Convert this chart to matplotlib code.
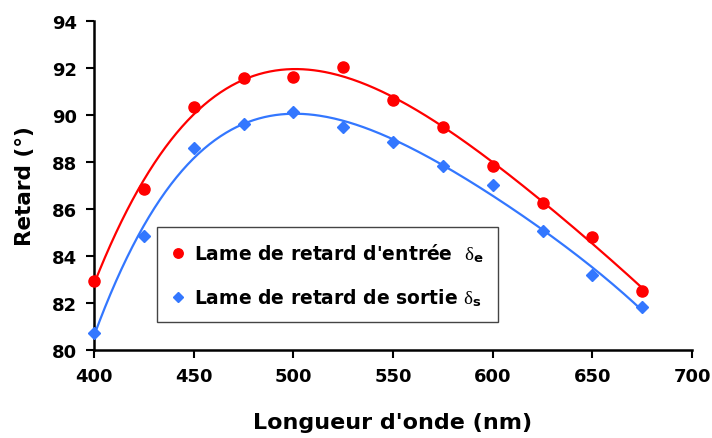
import numpy as np
import matplotlib
matplotlib.use("Agg")
import matplotlib.pyplot as plt

plt.rcParams['font.family'] = ['DejaVu Sans']
plt.rcParams['mathtext.fontset'] = 'custom'
plt.rcParams['mathtext.rm'] = 'DejaVu Sans'
plt.rcParams['mathtext.it'] = 'Liberation Serif'

wavelength = [400, 425, 450, 475, 500, 525, 550, 575, 600, 625, 650, 675]
retard_entree = [82.94, 86.85, 90.33, 91.56, 91.63, 92.03, 90.64, 89.50, 87.84, 86.26, 84.80, 82.52]
retard_sortie = [80.72, 84.86, 88.58, 89.62, 90.14, 89.50, 88.84, 87.81, 87.03, 85.08, 83.19, 81.82]

red = '#FF0000'
blue = '#3377FF'

fig = plt.figure(figsize=(7.12, 4.39), dpi=100)
ax = fig.add_axes([94/712, 1-351/439, (692-94)/712, (351-22)/439])

xf = np.linspace(min(wavelength), max(wavelength), 300)
for y, c, m, ms, lab in [
    (retard_entree, red, 'o', 8, "Lame de retard d'entrée  $\\delta_\\mathregular{e}$"),
    (retard_sortie, blue, 'D', 6.5, "Lame de retard de sortie $\\delta_\\mathregular{s}$"),
]:
    xs = (np.array(wavelength) - 550) / 100
    p = np.polyfit(xs, y, 4)
    ax.plot(xf, np.polyval(p, (xf - 550) / 100), color=c, lw=1.6, zorder=2)
    ax.plot(wavelength, y, ls='none', marker=m, ms=ms, color=c, mec=c, label=lab, zorder=3, clip_on=False)

ax.set_xlim(400, 700)
ax.set_ylim(80, 94)
ax.set_xticks(range(400, 701, 50))
ax.set_yticks(range(80, 95, 2))
for s in ['top', 'right']:
    ax.spines[s].set_visible(False)
for s in ['left', 'bottom']:
    ax.spines[s].set_linewidth(1.8)
ax.tick_params(direction='out', length=6, width=1.5, labelsize=13, pad=6)
for t in ax.get_xticklabels() + ax.get_yticklabels():
    t.set_fontweight('bold')
ax.set_xlabel("Longueur d'onde (nm)", fontsize=16, fontweight='bold', labelpad=20)
ax.set_ylabel("Retard (°)", fontsize=15.5, fontweight='bold', labelpad=12)

leg = ax.legend(loc='upper left', bbox_to_anchor=((157-94)/598, (351-228)/329),
                borderaxespad=0, fancybox=False, framealpha=1, edgecolor='#444444',
                prop={'size': 13.5, 'weight': 'bold'}, handlelength=0.7, handletextpad=0.5,
                labelspacing=1.2, borderpad=0.75, markerscale=0.85)
leg.get_frame().set_linewidth(1.0)

fig.savefig('out.png', dpi=100)
